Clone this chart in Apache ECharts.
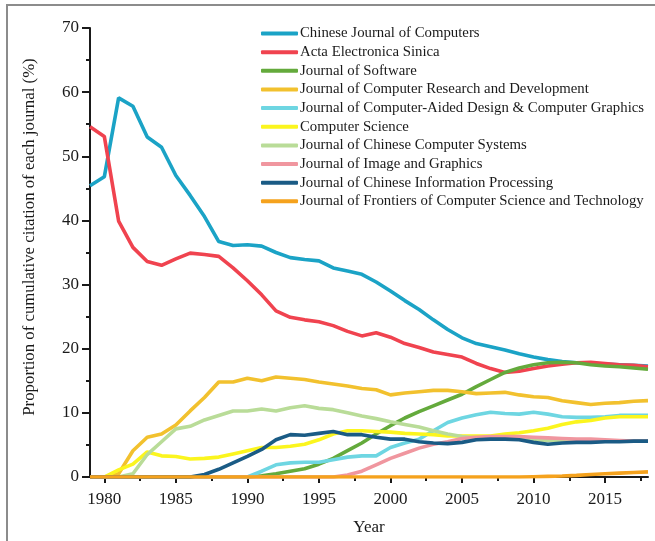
<!DOCTYPE html>
<html>
<head>
<meta charset="utf-8">
<script src="https://cdn.jsdelivr.net/npm/echarts@6/dist/echarts.min.js"></script>
<style>
html,body{margin:0;padding:0;background:#fff;}
#c{width:655px;height:541px;}
</style>
</head>
<body>
<div id="c"></div>
<script>
// ---------- data ----------
const years = [1979,1980,1981,1982,1983,1984,1985,1986,1987,1988,
               1989,1990,1991,1992,1993,1994,1995,1996,1997,1998,
               1999,2000,2001,2002,2003,2004,2005,2006,2007,2008,
               2009,2010,2011,2012,2013,2014,2015,2016,2017,2018];

const journalNames = [
  "Chinese Journal of Computers",
  "Acta Electronica Sinica",
  "Journal of Software",
  "Journal of Computer Research and Development",
  "Journal of Computer-Aided Design & Computer Graphics",
  "Computer Science",
  "Journal of Chinese Computer Systems",
  "Journal of Image and Graphics",
  "Journal of Chinese Information Processing",
  "Journal of Frontiers of Computer Science and Technology"
];

const chineseJournalOfComputers = [45.4,46.8,59.1,57.8,53.0,51.4,47.0,43.9,40.6,36.7,
                                   36.1,36.2,36.0,35.0,34.2,33.9,33.7,32.6,32.1,31.6,
                                   30.4,29.0,27.5,26.1,24.5,23.0,21.7,20.8,20.3,19.8,
                                   19.2,18.7,18.3,18.0,17.8,17.7,17.6,17.5,17.4,17.3];
const actaElectronicaSinica = [54.6,53.1,39.9,35.8,33.6,33.0,34.0,34.9,34.7,34.4,
                               32.6,30.6,28.4,25.9,24.9,24.5,24.2,23.6,22.7,22.0,
                               22.5,21.8,20.8,20.2,19.5,19.1,18.7,17.7,16.9,16.3,
                               16.5,16.9,17.3,17.6,17.8,17.9,17.7,17.5,17.4,17.2];
const journalOfSoftware = [0,0,0,0,0,0,0,0,0,0,
                           0,0,0.2,0.5,0.9,1.3,2.0,2.9,4.1,5.3,
                           6.7,8.0,9.2,10.2,11.1,12.0,12.9,14.1,15.2,16.3,
                           17.0,17.5,17.8,17.9,17.8,17.5,17.3,17.2,17.0,16.8];
const computerResearchDev = [0,0,0.5,4.1,6.2,6.7,8.1,10.3,12.4,14.8,
                             14.8,15.4,15.0,15.6,15.4,15.2,14.8,14.5,14.2,13.8,
                             13.6,12.8,13.1,13.3,13.5,13.5,13.3,13.0,13.1,13.2,
                             12.8,12.5,12.4,11.9,11.6,11.3,11.5,11.6,11.8,11.9];
const cadAndGraphics = [0,0,0,0,0,0,0,0,0,0,
                        0,0,0.9,1.9,2.2,2.3,2.3,2.7,3.1,3.3,
                        3.3,4.6,5.3,5.9,7.2,8.5,9.2,9.7,10.1,9.9,
                        9.8,10.1,9.8,9.4,9.3,9.3,9.4,9.6,9.6,9.6];
const computerScience = [0,0,1.1,2.0,3.9,3.3,3.2,2.8,2.9,3.1,
                         3.6,4.1,4.6,4.6,4.8,5.1,5.8,6.7,7.2,7.2,
                         7.1,7.0,6.8,6.7,6.6,6.4,6.4,6.4,6.4,6.7,
                         6.9,7.2,7.6,8.2,8.6,8.8,9.2,9.4,9.4,9.4];
const chineseComputerSystems = [0,0,0,0.5,3.5,5.5,7.5,7.9,8.9,9.6,
                                10.3,10.3,10.6,10.3,10.8,11.1,10.7,10.5,10.0,9.5,
                                9.1,8.6,8.2,7.8,7.2,6.7,6.3,6.1,6.0,6.0,
                                5.9,5.8,5.7,5.7,5.7,5.6,5.6,5.6,5.6,5.6];
const imageAndGraphics = [0,0,0,0,0,0,0,0,0,0,
                          0,0,0,0,0,0,0,0,0.3,0.9,
                          1.9,2.9,3.7,4.5,5.1,5.5,6.0,6.2,6.3,6.3,
                          6.3,6.2,6.1,6.0,5.9,5.9,5.8,5.7,5.6,5.6];
const chineseInfoProcessing = [0,0,0,0,0,0,0,0,0.4,1.2,
                               2.2,3.2,4.3,5.8,6.6,6.5,6.8,7.1,6.6,6.6,
                               6.2,5.9,5.9,5.5,5.3,5.2,5.4,5.8,5.9,5.9,
                               5.8,5.4,5.1,5.3,5.4,5.4,5.5,5.5,5.6,5.6];
const frontiersCST = [0,0,0,0,0,0,0,0,0,0,
                      0,0,0,0,0,0,0,0,0,0,
                      0,0,0,0,0,0,0,0,0,0,
                      0,0.05,0.1,0.15,0.25,0.4,0.5,0.6,0.7,0.8];

const xTickValues = [1980,1985,1990,1995,2000,2005,2010,2015];
const xMinorTickValues = [1982.5,1987.5,1992.5,1997.5,2002.5,2007.5,2012.5,2017.5];
const yTickValues = [0,10,20,30,40,50,60,70];

// ---------- styles ----------
const colors = ["#1ba3c6","#f0434f","#64aa3c","#f2c12e","#6ed6e2",
                "#fbf51e","#b9dc98","#f0969f","#1a5b85","#f5a21d"];
const seriesValues = [chineseJournalOfComputers, actaElectronicaSinica, journalOfSoftware,
  computerResearchDev, cadAndGraphics, computerScience, chineseComputerSystems,
  imageAndGraphics, chineseInfoProcessing, frontiersCST];

const FONT = "'Liberation Serif','DejaVu Serif',serif";
const INK = "#1a1a1a";

const chart = echarts.init(document.getElementById('c'));
chart.setOption({
  animation: false,
  backgroundColor: '#fff',
  color: colors,
  graphic: [{
    type: 'rect', z: 100, silent: true,
    shape: {x: 7, y: 5, width: 800, height: 700},
    style: {fill: 'none', stroke: '#8c8c8c', lineWidth: 2}
  }],
  grid: {left: 90, right: 7, top: 28, bottom: 62, containLabel: false},
  legend: {
    orient: 'vertical', left: 261, top: 26, padding: 0,
    icon: 'roundRect',
    itemWidth: 37, itemHeight: 4, itemGap: 3.65,
    textStyle: {fontFamily: FONT, fontSize: 14.8, color: INK, padding: [0,0,0,-3]},
    data: journalNames
  },
  xAxis: [{
    type: 'value', min: 1979, max: 2018,
    axisLine: {show: true, lineStyle: {color: INK, width: 2}},
    axisTick: {show: true, customValues: xTickValues, length: 6, lineStyle: {color: INK, width: 2}},
    axisLabel: {customValues: xTickValues, margin: 14, fontSize: 17, fontFamily: FONT, color: INK,
                formatter: v => String(v)},
    splitLine: {show: false},
    name: 'Year', nameLocation: 'middle', nameGap: 42,
    nameTextStyle: {fontSize: 17, fontFamily: FONT, color: INK}
  }, {
    type: 'value', min: 1979, max: 2018, position: 'bottom',
    axisLine: {show: false},
    axisTick: {show: true, customValues: xMinorTickValues, length: 4, lineStyle: {color: INK, width: 2}},
    axisLabel: {show: false},
    splitLine: {show: false}
  }],
  yAxis: {
    type: 'value', min: 0, max: 70, interval: 10,
    axisLine: {show: true, lineStyle: {color: INK, width: 2}},
    axisTick: {show: true, length: 8, lineStyle: {color: INK, width: 2}},
    minorTick: {show: true, splitNumber: 2, length: 4, lineStyle: {color: INK, width: 2}},
    axisLabel: {margin: 11, fontSize: 17, fontFamily: FONT, color: INK,
                formatter: v => (yTickValues.indexOf(v) >= 0 ? String(v) : '')},
    splitLine: {show: false},
    minorSplitLine: {show: false},
    name: 'Proportion of cumulative citation of each journal (%)',
    nameLocation: 'middle', nameGap: 52,
    nameTextStyle: {fontSize: 16.8, fontFamily: FONT, color: INK, padding: [0,0,0,31]}
  },
  series: journalNames.map((name, i) => ({
    name: name,
    type: 'line',
    xAxisIndex: 0,
    symbol: 'none',
    lineStyle: {width: 3.6, color: colors[i]},
    itemStyle: {color: colors[i]},
    emphasis: {disabled: true},
    data: years.map((y, k) => [y, seriesValues[i][k]])
  }))
});
</script>
</body>
</html>
